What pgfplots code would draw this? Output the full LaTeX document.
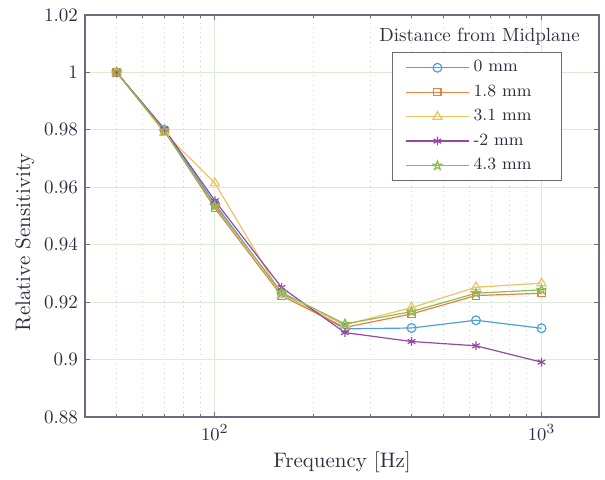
\documentclass[border=0pt]{standalone}
\usepackage{pgfplots}
\pgfplotsset{compat=1.18}
\usetikzlibrary{plotmarks}
\definecolor{cA}{rgb}{0.30,0.63,0.86}
\definecolor{cB}{rgb}{0.91,0.50,0.26}
\definecolor{cC}{rgb}{0.93,0.77,0.38}
\definecolor{cD}{rgb}{0.60,0.28,0.65}
\definecolor{cE}{rgb}{0.55,0.74,0.32}
\definecolor{axcol}{rgb}{0.42,0.42,0.50}
\definecolor{txtcol}{rgb}{0.18,0.18,0.26}
\definecolor{majgrid}{rgb}{0.86,0.92,0.84}
\definecolor{mingrid}{rgb}{0.83,0.83,0.85}
\pgfdeclareplotmark{pentagram}{%
  \pgfpathmoveto{\pgfpointpolar{90}{\pgfplotmarksize}}%
  \pgfpathlineto{\pgfpointpolar{126}{0.4\pgfplotmarksize}}%
  \pgfpathlineto{\pgfpointpolar{162}{\pgfplotmarksize}}%
  \pgfpathlineto{\pgfpointpolar{198}{0.4\pgfplotmarksize}}%
  \pgfpathlineto{\pgfpointpolar{234}{\pgfplotmarksize}}%
  \pgfpathlineto{\pgfpointpolar{270}{0.4\pgfplotmarksize}}%
  \pgfpathlineto{\pgfpointpolar{306}{\pgfplotmarksize}}%
  \pgfpathlineto{\pgfpointpolar{342}{0.4\pgfplotmarksize}}%
  \pgfpathlineto{\pgfpointpolar{18}{\pgfplotmarksize}}%
  \pgfpathlineto{\pgfpointpolar{54}{0.4\pgfplotmarksize}}%
  \pgfpathclose
  \pgfusepathqstroke
}
\begin{document}
\begin{tikzpicture}
\begin{axis}[
  name=ax,
  scale only axis,
  width=257pt, height=201pt,
  xmode=log,
  xmin=40, xmax=1500,
  ymin=0.88, ymax=1.02,
  ytick={0.88,0.9,0.92,0.94,0.96,0.98,1,1.02},
  yticklabels={0.88,0.9,0.92,0.94,0.96,0.98,1,1.02},
  xtick={100,1000},
  xticklabels={$10^2$,$10^3$},
  minor xtick={50,60,70,80,90,200,300,400,500,600,700,800,900},
  grid=both,
  major grid style={majgrid, line width=0.5pt},
  minor grid style={mingrid, dotted, line width=0.4pt},
  tick align=inside,
  major tick length=2.5pt,
  minor tick length=1.6pt,
  every tick/.style={axcol, line width=0.5pt},
  axis line style={axcol, line width=0.6pt},
  tick label style={font=\fontsize{9.5}{11}\selectfont, text=txtcol},
  xlabel={Frequency [Hz]},
  ylabel={Relative Sensitivity},
  label style={font=\fontsize{10.5}{12}\selectfont, text=txtcol},
  xlabel style={at={(axis description cs:0.5,-0.112)}, anchor=center},
  ylabel style={at={(axis description cs:-0.117,0.435)}, anchor=center},
  legend cell align=left,
  legend style={
    at={([xshift=-18.5pt,yshift=-18.5pt]rel axis cs:1,1)}, anchor=north east,
    draw=axcol, line width=0.5pt, fill=white,
    font=\fontsize{8.6}{10}\selectfont, text=txtcol,
    inner xsep=6.5pt, inner ysep=2pt,
    row sep=1pt,
  },
  legend image code/.code={%
    \draw[mark repeat=2,mark phase=2,#1] plot coordinates {(0pt,0pt) (15.75pt,0pt) (31.5pt,0pt)};},
  every axis plot/.append style={line width=0.6pt},
]
\addplot[cA, mark=o, mark size=2.2pt, mark options={solid, fill=none}] coordinates {
(50,1.000) (70,0.9800) (100,0.9542) (160,0.9231) (250,0.9107) (400,0.9110) (630,0.9137) (1000,0.9109)};
\addlegendentry{0 mm}
\addplot[cB, mark=square, mark size=1.8pt, mark options={solid, fill=none}] coordinates {
(50,1.000) (70,0.9797) (100,0.9527) (160,0.9222) (250,0.9112) (400,0.9159) (630,0.9223) (1000,0.9231)};
\addlegendentry{1.8 mm\hspace*{6.5pt}}
\addplot[cC, mark=triangle, mark size=2.6pt, mark options={solid, fill=none}] coordinates {
(50,1.000) (70,0.9790) (100,0.9614) (160,0.9225) (250,0.9121) (400,0.9181) (630,0.9252) (1000,0.9266)};
\addlegendentry{3.1 mm\hspace*{6.5pt}}
\addplot[cD, mark=asterisk, mark size=2.2pt, mark options={solid}] coordinates {
(50,1.000) (70,0.9803) (100,0.9553) (160,0.9251) (250,0.9094) (400,0.9063) (630,0.9048) (1000,0.8991)};
\addlegendentry{-2 mm}
\addplot[cE, mark=pentagram, mark size=2.3pt, mark options={solid, fill=none}] coordinates {
(50,1.000) (70,0.9795) (100,0.9535) (160,0.9234) (250,0.9124) (400,0.9167) (630,0.9231) (1000,0.9243)};
\addlegendentry{4.3 mm\hspace*{6.5pt}}
\end{axis}
\node[font=\fontsize{9.5}{11}\selectfont, text=txtcol, anchor=center] at ([xshift=197.25pt,yshift=-11pt]ax.north west) {Distance from Midplane};
\pgfresetboundingbox
\path[use as bounding box] ([xshift=-42.5pt,yshift=-31pt]ax.south west) rectangle ([xshift=3pt,yshift=7.5pt]ax.north east);
\end{tikzpicture}
\end{document}
